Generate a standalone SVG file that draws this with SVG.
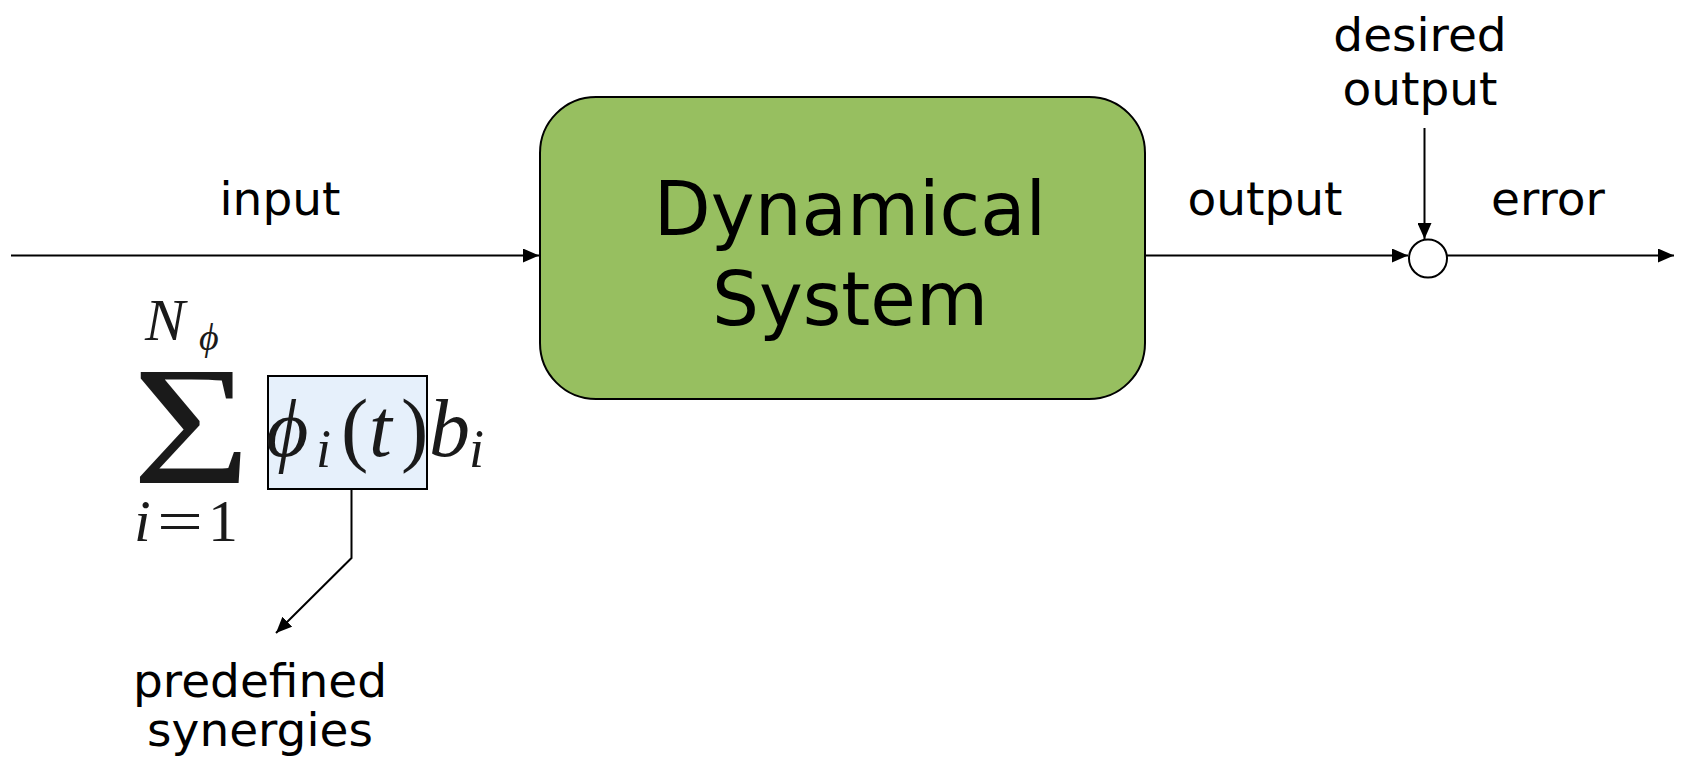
<svg xmlns="http://www.w3.org/2000/svg" width="1682" height="760" viewBox="0 0 1682 760">
<defs>
<marker id="arr" markerUnits="userSpaceOnUse" markerWidth="18" markerHeight="14" refX="16" refY="7" orient="auto">
<path d="M0,0 L16,7 L0,14 Z" fill="#000"/>
</marker>
</defs>
<style>
.lbl{font-family:"DejaVu Sans",sans-serif;font-size:47px;fill:#000;text-anchor:middle}
.big{font-family:"DejaVu Sans",sans-serif;font-size:74px;fill:#000;text-anchor:middle}
.m{font-family:"Liberation Serif","DejaVu Serif",serif;fill:#1a1a1a}
.it{font-style:italic}
.up{font-style:normal}
.ln{stroke:#000;stroke-width:2;fill:none}
</style>
<rect width="1682" height="760" fill="#fff"/>
<g id="connectors">
<line class="ln" x1="11" y1="255.5" x2="539" y2="255.5" marker-end="url(#arr)"/>
<line class="ln" x1="1145" y1="255.5" x2="1408" y2="255.5" marker-end="url(#arr)"/>
<line class="ln" x1="1447" y1="255.5" x2="1674" y2="255.5" marker-end="url(#arr)"/>
<line class="ln" x1="1424.5" y1="128" x2="1424.5" y2="239" marker-end="url(#arr)"/>
<polyline class="ln" points="351.5,483 351.5,558 276,633" marker-end="url(#arr)"/>
</g>
<g id="dynamical-system">
<rect x="540" y="97" width="605" height="302" rx="56" ry="56" fill="#97bf60" stroke="#000" stroke-width="2"/>
<text class="big" x="850" y="235">Dynamical</text>
<text class="big" x="850" y="325">System</text>
</g>
<g id="sum-junction">
<circle cx="1428" cy="258.5" r="19" fill="#fff" stroke="#000" stroke-width="2"/>
</g>
<g id="label-input"><text class="lbl" x="280" y="215">input</text></g>
<g id="label-output"><text class="lbl" x="1265" y="215">output</text></g>
<g id="label-error"><text class="lbl" x="1548" y="215">error</text></g>
<g id="label-desired"><text class="lbl" x="1420" y="51">desired</text><text class="lbl" x="1420" y="105">output</text></g>
<g id="label-synergies"><text class="lbl" x="260" y="697">predefined</text><text class="lbl" x="260" y="746">synergies</text></g>
<g id="formula">
<rect x="268" y="376" width="159" height="113" fill="#e6f0fb" stroke="#000" stroke-width="2"/>
<text class="m it" y="340" font-size="60"><tspan x="145">N</tspan><tspan x="199" y="350" font-size="38">ϕ</tspan></text>
<text class="m" transform="translate(132,483) scale(1.2,1)" x="0" y="0" font-size="170">Σ</text>
<text class="m" y="541" font-size="60"><tspan class="it" x="134">i</tspan><tspan x="157" textLength="46" lengthAdjust="spacingAndGlyphs">=</tspan><tspan x="208">1</tspan></text>
<text class="m it" y="456" font-size="82"><tspan x="266">ϕ</tspan><tspan x="316" y="467" font-size="54">i</tspan><tspan class="up" x="341" y="456">(</tspan><tspan x="369">t</tspan><tspan class="up" x="401">)</tspan><tspan x="429">b</tspan><tspan x="469" y="467" font-size="54">i</tspan></text>
</g>
</svg>
